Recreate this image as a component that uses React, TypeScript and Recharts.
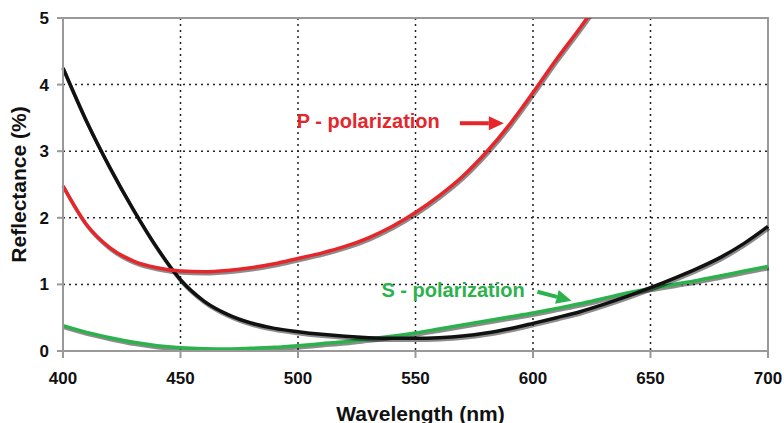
import React from 'react';
import {
  LineChart,
  Line,
  XAxis,
  YAxis,
  CartesianGrid,
  ReferenceArea,
  ReferenceDot,
  Label,
} from 'recharts';

const wavelengths = [
  400, 410, 420, 430, 440, 450, 460, 470, 480, 490, 500, 510, 520, 530, 540, 550,
  560, 570, 580, 590, 600, 610, 620, 630, 640, 650, 660, 670, 680, 690, 700,
];

const pPolarization = [
  2.48, 1.9, 1.55, 1.35, 1.25, 1.2, 1.19, 1.21, 1.25, 1.31, 1.39, 1.47, 1.57, 1.7,
  1.87, 2.08, 2.33, 2.62, 2.98, 3.4, 3.88, 4.38, 4.85, 5.35, 5.85,
  null, null, null, null, null, null,
];

const unpolarized = [
  4.25, 3.45, 2.75, 2.12, 1.55, 1.07, 0.75, 0.55, 0.42, 0.34, 0.29, 0.25, 0.22, 0.2,
  0.19, 0.19, 0.2, 0.225, 0.27, 0.335, 0.415, 0.5, 0.59, 0.7, 0.82, 0.95, 1.09, 1.24,
  1.41, 1.62, 1.87,
];

const sPolarization = [
  0.38, 0.28, 0.2, 0.13, 0.08, 0.05, 0.035, 0.03, 0.04, 0.055, 0.08, 0.11, 0.14, 0.18,
  0.22, 0.27, 0.33, 0.39, 0.45, 0.51, 0.57, 0.64, 0.71, 0.79, 0.87, 0.94, 1.0, 1.06,
  1.13, 1.2, 1.27,
];

const xTicks = [400, 450, 500, 550, 600, 650, 700];
const yTicks = [0, 1, 2, 3, 4, 5];

const RED = '#e5262b';
const GREEN = '#2bb24c';
const BLACK = '#111111';
const FONT = '"Liberation Sans", Arial, sans-serif';

const data = wavelengths.map((w, i) => ({
  w,
  p: pPolarization[i],
  u: unpolarized[i],
  s: sPolarization[i],
}));

// text label with an arrow pointing at the curve
function Callout({ cx, cy, text, color, arrow }: any) {
  const [x1, y1, x2, y2] = arrow;
  const ang = Math.atan2(y2 - y1, x2 - x1);
  const hl = 15;
  const hw = 7;
  const bx = cx + x2 - hl * Math.cos(ang);
  const by = cy + y2 - hl * Math.sin(ang);
  const px = -Math.sin(ang) * hw;
  const py = Math.cos(ang) * hw;
  return (
    <g>
      <text
        x={cx}
        y={cy}
        fill={color}
        fontFamily={FONT}
        fontWeight="bold"
        fontSize={20}
        dominantBaseline="central"
      >
        {text}
      </text>
      <line x1={cx + x1} y1={cy + y1} x2={bx} y2={by} stroke={color} strokeWidth={4} />
      <polygon
        points={`${cx + x2},${cy + y2} ${bx + px},${by + py} ${bx - px},${by - py}`}
        fill={color}
      />
    </g>
  );
}

export default function App() {
  return (
    <div style={{ width: 784, height: 423, background: '#fff' }}>
      <style>{`
        body { margin: 0; }
        .recharts-line-curve { filter: drop-shadow(1px 2px 0.6px rgba(0,0,0,0.45)); }
      `}</style>
      <LineChart
        width={784}
        height={423}
        data={data}
        margin={{ top: 18, right: 16, bottom: 0, left: 0 }}
      >
        <CartesianGrid stroke="#222" strokeDasharray="2 4" strokeWidth={1.5} />
        <XAxis
          dataKey="w"
          type="number"
          domain={[400, 700]}
          ticks={xTicks}
          height={72}
          stroke="#999"
          strokeWidth={2}
          tickSize={7}
          tickMargin={14}
          tick={{ fill: '#111', fontFamily: FONT, fontWeight: 'bold', fontSize: 17 }}
        >
          <Label
            value="Wavelength (nm)"
            position="insideBottom"
            offset={0}
            dx={5}
            dy={-2}
            style={{ fill: '#111', fontFamily: FONT, fontWeight: 'bold', fontSize: 21 }}
          />
        </XAxis>
        <YAxis
          type="number"
          domain={[0, 5]}
          ticks={yTicks}
          allowDataOverflow
          width={63}
          stroke="#999"
          strokeWidth={2}
          tickSize={6}
          tickMargin={8}
          tick={{ fill: '#111', fontFamily: FONT, fontWeight: 'bold', fontSize: 17 }}
        >
          <Label
            value="Reflectance (%)"
            angle={-90}
            position="insideLeft"
            offset={19}
            style={{
              fill: '#111',
              fontFamily: FONT,
              fontWeight: 'bold',
              fontSize: 21,
              textAnchor: 'middle',
            }}
          />
        </YAxis>
        <ReferenceArea
          x1={400}
          x2={700}
          y1={0}
          y2={5}
          fill="none"
          stroke="#999"
          strokeWidth={2}
        />
        <Line
          type="monotone"
          dataKey="s"
          stroke={GREEN}
          strokeWidth={3.5}
          dot={false}
          isAnimationActive={false}
        />
        <Line
          type="monotone"
          dataKey="u"
          stroke={BLACK}
          strokeWidth={3.5}
          dot={false}
          isAnimationActive={false}
        />
        <Line
          type="monotone"
          dataKey="p"
          stroke={RED}
          strokeWidth={3.5}
          dot={false}
          isAnimationActive={false}
        />
        <ReferenceDot
          x={499.5}
          y={3.45}
          r={0}
          shape={(props: any) => (
            <Callout
              {...props}
              text="P - polarization"
              color={RED}
              arrow={[163, 2, 207, 2]}
            />
          )}
        />
        <ReferenceDot
          x={535.5}
          y={0.92}
          r={0}
          shape={(props: any) => (
            <Callout
              {...props}
              text="S - polarization"
              color={GREEN}
              arrow={[156, 2, 190, 11]}
            />
          )}
        />
      </LineChart>
    </div>
  );
}
